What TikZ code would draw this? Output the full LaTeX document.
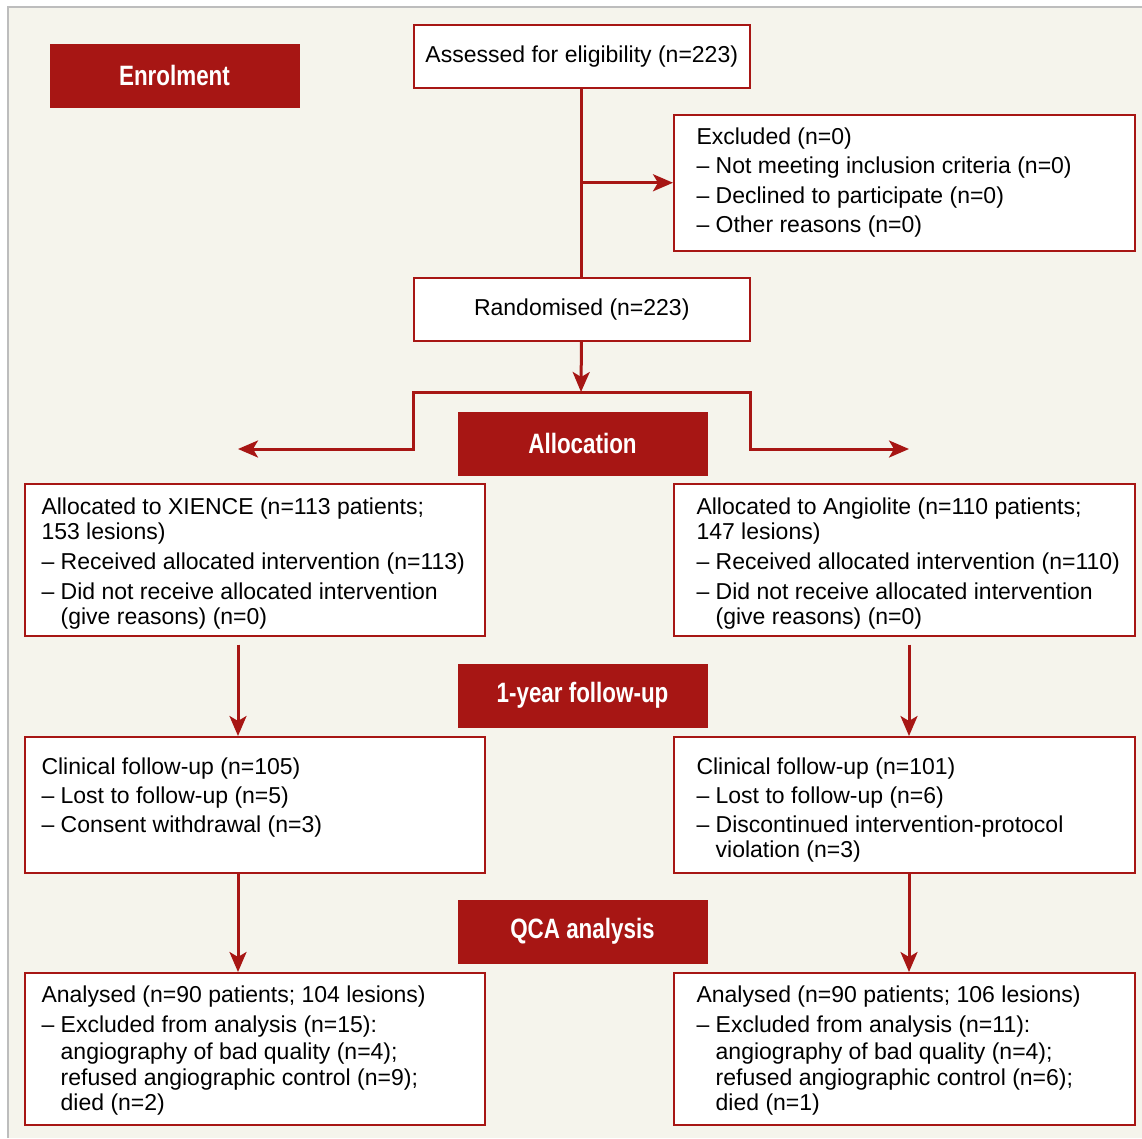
\documentclass[tikz,border=0pt]{standalone}
\usepackage{fontspec}
\setmainfont{Liberation Sans}
\newfontfamily\headfont{Liberation Sans}[FakeStretch=0.8]
\usepackage{xcolor}
\usepackage{tikz}
\usetikzlibrary{positioning}
\usetikzlibrary{arrows.meta}
\definecolor{flowred}{HTML}{A71614}
\definecolor{flowbg}{HTML}{F5F4EC}
\definecolor{flowframe}{HTML}{BDBDBD}
\tikzset{my_flow/.style={x=1pt,y=-1pt,line width=3pt,>={Stealth[length=20pt,width=17pt,inset=5pt]}}}
\tikzset{my_box/.style={rectangle,draw=flowred,line width=1.5pt,fill=white,anchor=north west,inner sep=0pt,font=\fontsize{23}{25}\selectfont}}
\tikzset{my_text/.style={anchor=north west,inner sep=0pt,align=left,font=\fontsize{23}{25}\selectfont}}
\tikzset{my_head/.style={rectangle,fill=flowred,text=white,anchor=north west,minimum width=250pt,minimum height=64pt,inner sep=0pt,font=\headfont\bfseries\fontsize{28}{30}\selectfont}}
\tikzset{my_line/.style={draw=flowred}}
\tikzset{my_arrow/.style={draw=flowred,->}}
\newcommand{\flowdash}{--\ }
\newcommand{\flowindent}{\phantom{--\ }}

\begin{document}
\begin{tikzpicture}[my_flow]
    \useasboundingbox (0,0) rectangle (1142,1138);
    \fill[flowbg] (8,7) rectangle (1142,1138);
    \draw[flowframe, line width=1.5pt] (8,1138) -- (8,7) -- (1142,7);

    % stage labels
    \node[my_head] (enrolment) at (48,42) {Enrolment};
    \node[my_head] (allocation) at (456,410) {Allocation};
    \node[my_head] (followup) at (456,662) {1-year follow-up};
    \node[my_head] (qca) at (456,898) {QCA analysis};

    % enrolment
    \node[my_box, minimum width=336pt, minimum height=63pt] (assessed) at (413,24) {Assessed for eligibility (n=223)};
    \node[my_box, minimum width=461pt, minimum height=136pt] (excluded) at (673,114) {};
    \node[my_text] (excluded_txt) at (695,126) {Excluded (n=0)\\[4.5pt]
        \flowdash Not meeting inclusion criteria (n=0)\\[4.5pt]
        \flowdash Declined to participate (n=0)\\[4.5pt]
        \flowdash Other reasons (n=0)};
    \node[my_box, minimum width=336pt, minimum height=63pt] (randomised) at (413,277) {Randomised (n=223)};

    % allocation
    \node[my_box, minimum width=460pt, minimum height=152pt] (xience) at (24,483) {};
    \node[my_text] (xience_txt) at (40,496) {Allocated to XIENCE (n=113 patients;\\
        153 lesions)\\[5pt]
        \flowdash Received allocated intervention (n=113)\\[5pt]
        \flowdash Did not receive allocated intervention\\
        \flowindent(give reasons) (n=0)};
    \node[my_box, minimum width=461pt, minimum height=152pt] (angio) at (673,483) {};
    \node[my_text] (angio_txt) at (695,496) {Allocated to Angiolite (n=110 patients;\\
        147 lesions)\\[5pt]
        \flowdash Received allocated intervention (n=110)\\[5pt]
        \flowdash Did not receive allocated intervention\\
        \flowindent(give reasons) (n=0)};

    % follow-up
    \node[my_box, minimum width=460pt, minimum height=136pt] (clin_x) at (24,736) {};
    \node[my_text] (clin_x_txt) at (40,756) {Clinical follow-up (n=105)\\[4pt]
        \flowdash Lost to follow-up (n=5)\\[4pt]
        \flowdash Consent withdrawal (n=3)};
    \node[my_box, minimum width=461pt, minimum height=136pt] (clin_a) at (673,736) {};
    \node[my_text] (clin_a_txt) at (695,756) {Clinical follow-up (n=101)\\[4pt]
        \flowdash Lost to follow-up (n=6)\\[4pt]
        \flowdash Discontinued intervention-protocol\\
        \flowindent violation (n=3)};

    % analysis
    \node[my_box, minimum width=460pt, minimum height=152pt] (anal_x) at (24,972) {};
    \node[my_text] (anal_x_txt) at (40,984) {Analysed (n=90 patients; 104 lesions)\\[5pt]
        \flowdash Excluded from analysis (n=15):\\[2pt]
        \flowindent angiography of bad quality (n=4);\\[1pt]
        \flowindent refused angiographic control (n=9);\\
        \flowindent died (n=2)};
    \node[my_box, minimum width=461pt, minimum height=152pt] (anal_a) at (673,972) {};
    \node[my_text] (anal_a_txt) at (695,984) {Analysed (n=90 patients; 106 lesions)\\[5pt]
        \flowdash Excluded from analysis (n=11):\\[2pt]
        \flowindent angiography of bad quality (n=4);\\[1pt]
        \flowindent refused angiographic control (n=6);\\
        \flowindent died (n=1)};

    % connectors
    \coordinate (split) at (581,392);
    \coordinate (to_xience) at (238,449);
    \coordinate (to_angio) at (909,449);
    \draw[my_line] (assessed) -- (randomised);
    \draw[my_arrow] (assessed.south |- excluded.west) -- (excluded.west);
    \draw[my_arrow] (randomised) -- (split);
    \draw[my_arrow] (split) -| (to_xience -| randomised.west) -- (to_xience);
    \draw[my_arrow] (split) -| (to_angio -| randomised.east) -- (to_angio);
    \draw[my_arrow, shorten <=8pt] (to_xience |- xience.south) -- (to_xience |- clin_x.north);
    \draw[my_arrow, shorten <=8pt] (to_angio |- angio.south) -- (to_angio |- clin_a.north);
    \draw[my_arrow] (to_xience |- clin_x.south) -- (to_xience |- anal_x.north);
    \draw[my_arrow] (to_angio |- clin_a.south) -- (to_angio |- anal_a.north);
\end{tikzpicture}
\end{document}
